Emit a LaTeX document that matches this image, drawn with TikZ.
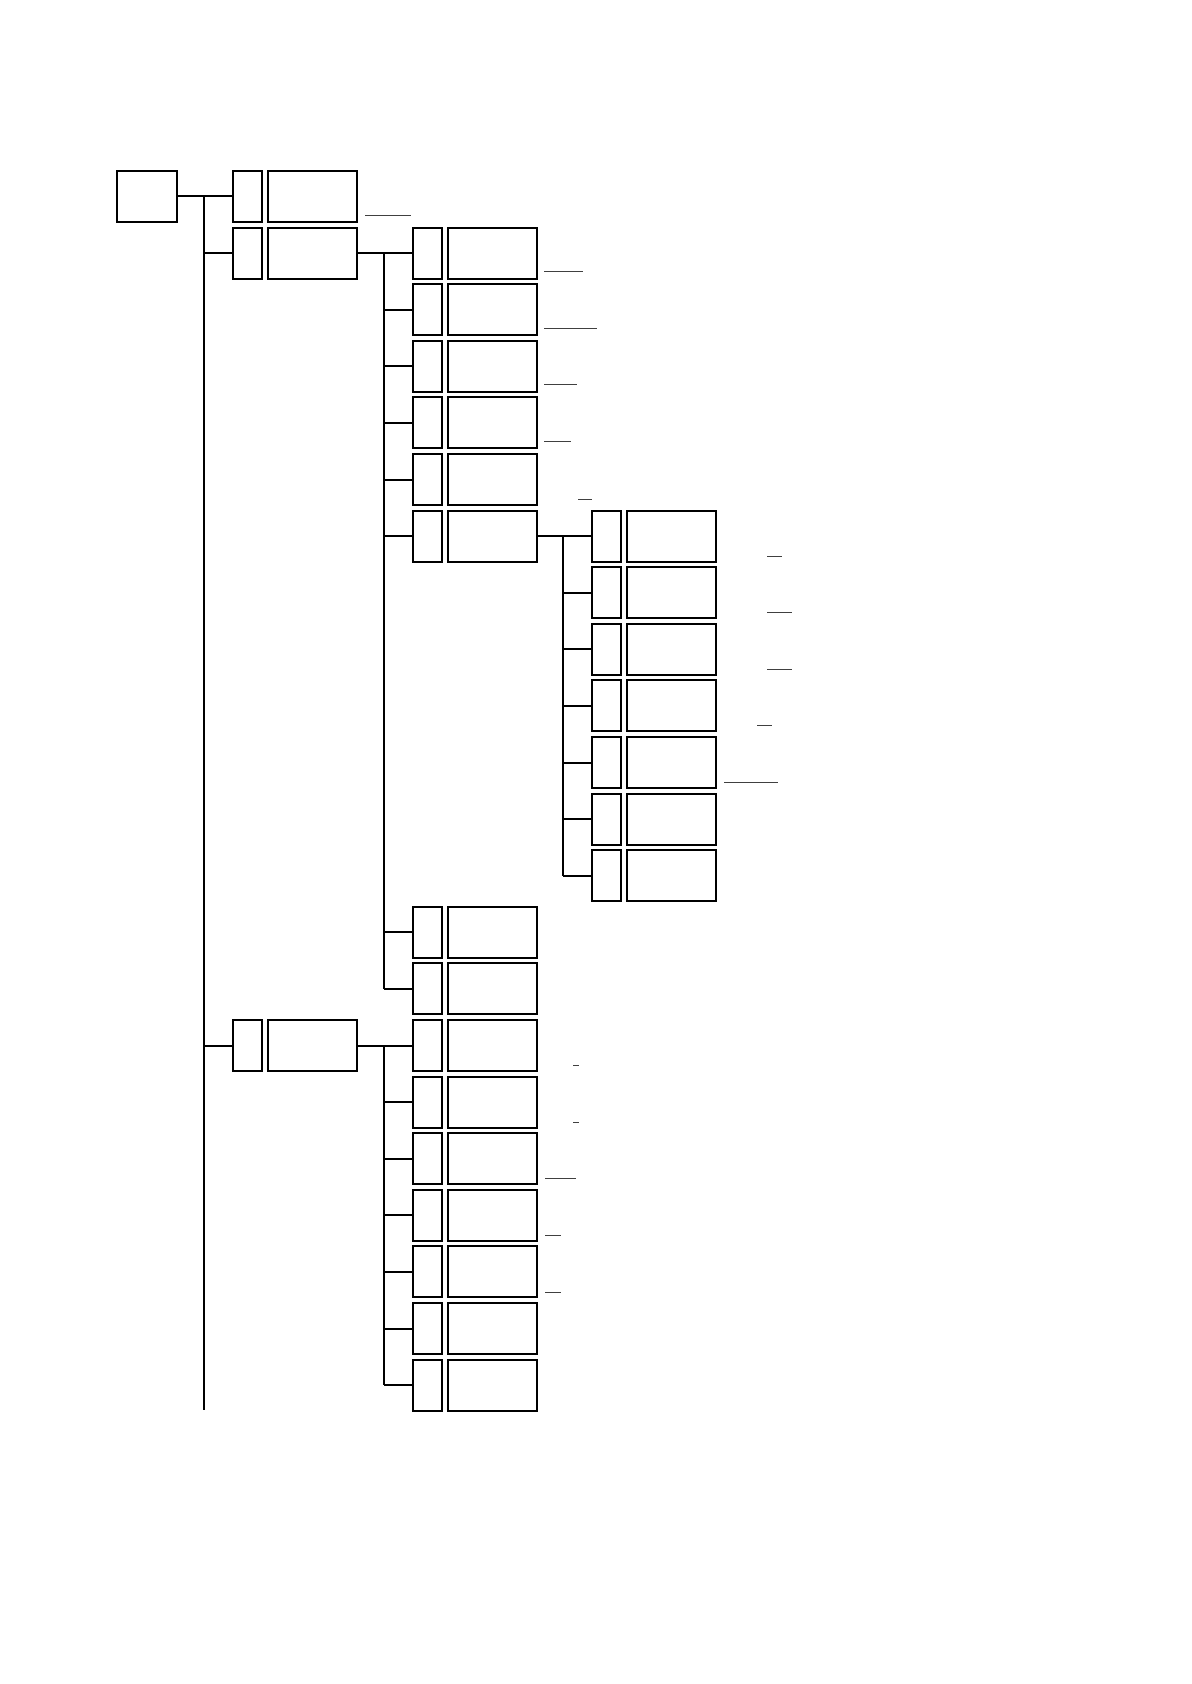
\documentclass[tikz,border=0pt]{standalone}
\newcommand\rowpair[2]{%
  \pgfmathsetmacro\xs{232+179.5*(#1-1)}%
  \pgfmathsetmacro\yt{170+56.6*#2}%
  \node[smallbox] (s#1-#2) at (\xs,\yt) {};
  \node[widebox] (w#1-#2) at (\xs+35,\yt) {};
}
\begin{document}
\begin{tikzpicture}[x=0.5pt,y=-0.5pt,
  box/.style={draw, line width=1pt, inner sep=0pt, anchor=north west, minimum height=25.5pt},
  smallbox/.style={box, minimum width=14.5pt},
  widebox/.style={box, minimum width=44.5pt},
  link/.style={line width=1pt},
  ulin/.style={line width=0.5pt, draw=black!75}]
\useasboundingbox (0,0) rectangle (1191,1684);
% root
\node[box, minimum width=30pt] (root) at (116,170) {};
% rows
\foreach \r in {0,1,15} {\rowpair{1}{\r}}
\foreach \r in {1,2,3,4,5,6,13,14,15,16,17,18,19,20,21} {\rowpair{2}{\r}}
\foreach \r in {6,7,8,9,10,11,12} {\rowpair{3}{\r}}
% trunk coordinates
\coordinate (t1) at (204,0);
\coordinate (t2) at (383.7,0);
\coordinate (t3) at (563.3,0);
\coordinate (t1end) at (204,1410);
% level 1
\draw[link] (root.east) -- (s1-0.west);
\draw[link] (s1-0.west -| t1) -- (t1end);
\foreach \r in {1,15} \draw[link] (s1-\r.west -| t1) -- (s1-\r.west);
% level 2, group A
\draw[link] (w1-1.east) -- (s2-1.west);
\draw[link] (s2-1.west -| t2) -- (s2-14.west -| t2);
\foreach \r in {2,3,4,5,6,13,14} \draw[link] (s2-\r.west -| t2) -- (s2-\r.west);
% level 2, group B
\draw[link] (w1-15.east) -- (s2-15.west);
\draw[link] (s2-15.west -| t2) -- (s2-21.west -| t2);
\foreach \r in {16,17,18,19,20,21} \draw[link] (s2-\r.west -| t2) -- (s2-\r.west);
% level 3
\draw[link] (w2-6.east) -- (s3-6.west);
\draw[link] (s3-6.west -| t3) -- (s3-12.west -| t3);
\foreach \r in {7,8,9,10,11,12} \draw[link] (s3-\r.west -| t3) -- (s3-\r.west);
% short rules
\draw[ulin] (365,216) -- (411,216);
\draw[ulin] (544,272) -- (583,272);
\draw[ulin] (544,329) -- (597,329);
\draw[ulin] (544,385) -- (577,385);
\draw[ulin] (544,442) -- (571,442);
\draw[ulin] (578,499) -- (592,499);
\draw[ulin] (767,556) -- (782,556);
\draw[ulin] (767,612) -- (792,612);
\draw[ulin] (767,669) -- (792,669);
\draw[ulin] (757,725) -- (772,725);
\draw[ulin] (724,782) -- (778,782);
\draw[ulin] (573,1065) -- (579,1065);
\draw[ulin] (573,1122) -- (579,1122);
\draw[ulin] (545,1178) -- (576,1178);
\draw[ulin] (545,1235) -- (561,1235);
\draw[ulin] (545,1292) -- (561,1292);
\end{tikzpicture}
\end{document}
